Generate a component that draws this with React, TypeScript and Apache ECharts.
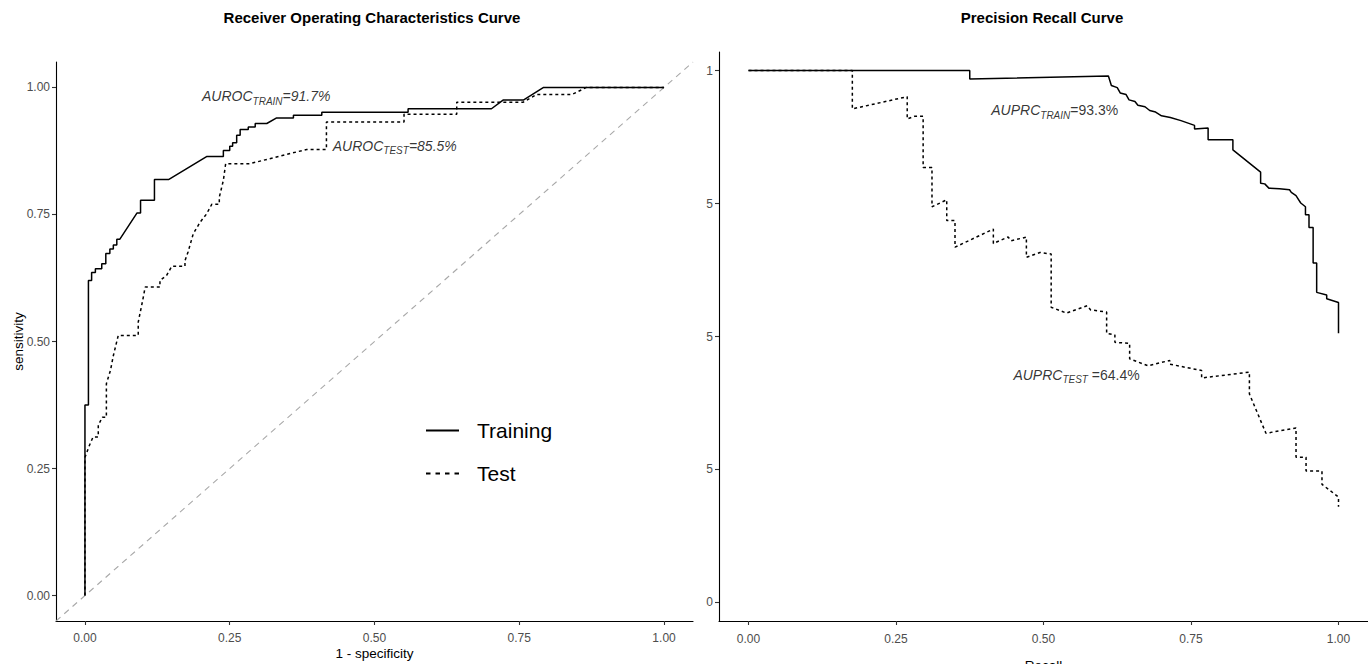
import React, { useEffect, useRef } from "react";
import * as echarts from "echarts";

const FONT = "'Liberation Sans', Arial, Helvetica, sans-serif";

const titles = ["Receiver Operating Characteristics Curve", "Precision Recall Curve"];
const seriesNames = ["Training", "Test"];
const tickValues = [0, 0.25, 0.5, 0.75, 1];
const rocTickLabels = ["0.00", "0.25", "0.50", "0.75", "1.00"];
const prXTickLabels = ["0.00", "0.25", "0.50", "0.75", "1.00"];
const prYTickLabels = ["0", "5", "5", "5", "1"];

// ROC curve, training: [1 - specificity, sensitivity]
const rocTrain: [number, number][] = [
  [0, 0], [0, 0.375], [0.006, 0.375], [0.006, 0.62], [0.0115, 0.62], [0.0115, 0.636],
  [0.018, 0.636], [0.018, 0.643], [0.029, 0.643], [0.029, 0.653], [0.036, 0.653], [0.036, 0.673],
  [0.043, 0.673], [0.043, 0.682], [0.049, 0.682], [0.049, 0.69], [0.055, 0.69], [0.055, 0.701],
  [0.06, 0.701], [0.09, 0.753], [0.096, 0.753], [0.096, 0.778], [0.12, 0.778], [0.12, 0.819],
  [0.145, 0.819], [0.21, 0.864], [0.239, 0.864], [0.239, 0.876], [0.25, 0.876], [0.25, 0.884],
  [0.255, 0.884], [0.255, 0.891], [0.262, 0.891], [0.262, 0.906], [0.268, 0.906], [0.268, 0.917],
  [0.282, 0.917], [0.282, 0.922], [0.294, 0.922], [0.294, 0.929], [0.314, 0.929], [0.331, 0.94],
  [0.36, 0.94], [0.36, 0.945], [0.409, 0.945], [0.409, 0.951], [0.558, 0.951], [0.558, 0.958],
  [0.702, 0.958], [0.722, 0.975], [0.757, 0.975], [0.792, 1], [1, 1],
];

// ROC curve, test
const rocTest: [number, number][] = [
  [0, 0], [0, 0.272], [0.0075, 0.295], [0.014, 0.312], [0.023, 0.312], [0.023, 0.335],
  [0.03, 0.351], [0.037, 0.351], [0.037, 0.417], [0.044, 0.443], [0.049, 0.472], [0.0575, 0.512],
  [0.092, 0.512], [0.092, 0.538], [0.0997, 0.581], [0.104, 0.607], [0.1295, 0.607], [0.1295, 0.62],
  [0.141, 0.63], [0.15, 0.648], [0.1727, 0.648], [0.1727, 0.659], [0.178, 0.676], [0.187, 0.712],
  [0.199, 0.735], [0.21, 0.751], [0.219, 0.77], [0.232, 0.77], [0.232, 0.784], [0.239, 0.817],
  [0.243, 0.85], [0.285, 0.85], [0.383, 0.878], [0.417, 0.878], [0.417, 0.932], [0.551, 0.932],
  [0.551, 0.947], [0.642, 0.947], [0.642, 0.971], [0.757, 0.971], [0.78, 0.986], [0.841, 0.986],
  [0.866, 1], [1, 1],
];

// Precision-recall curve, training: [recall, precision]
const prTrain: [number, number][] = [
  [0, 1], [0.375, 1], [0.375, 0.984], [0.61, 0.99], [0.615, 0.972], [0.625, 0.968], [0.63, 0.958],
  [0.64, 0.955], [0.645, 0.945], [0.655, 0.942], [0.66, 0.935], [0.672, 0.932], [0.68, 0.925],
  [0.69, 0.922], [0.7, 0.915], [0.715, 0.912], [0.733, 0.906], [0.756, 0.897], [0.756, 0.89],
  [0.779, 0.892], [0.779, 0.87], [0.821, 0.87], [0.821, 0.851], [0.868, 0.809], [0.868, 0.788],
  [0.875, 0.787], [0.882, 0.779], [0.9, 0.778], [0.917, 0.776], [0.92, 0.771], [0.928, 0.765],
  [0.932, 0.758], [0.936, 0.751], [0.944, 0.744], [0.944, 0.729], [0.95, 0.729], [0.95, 0.705],
  [0.957, 0.705], [0.957, 0.638], [0.963, 0.638], [0.963, 0.583], [0.98, 0.578], [0.98, 0.571],
  [1, 0.564], [1, 0.506],
];

// Precision-recall curve, test
const prTest: [number, number][] = [
  [0, 1], [0.176, 1], [0.176, 0.928], [0.269, 0.951], [0.269, 0.909], [0.281, 0.914], [0.296, 0.914],
  [0.296, 0.818], [0.311, 0.818], [0.311, 0.744], [0.336, 0.757], [0.336, 0.718], [0.35, 0.718],
  [0.35, 0.668], [0.415, 0.702], [0.415, 0.675], [0.44, 0.687], [0.445, 0.68], [0.471, 0.687],
  [0.471, 0.649], [0.494, 0.658], [0.513, 0.655], [0.513, 0.555], [0.539, 0.544], [0.574, 0.558],
  [0.58, 0.55], [0.607, 0.546], [0.607, 0.506], [0.621, 0.503], [0.621, 0.489], [0.646, 0.487],
  [0.646, 0.458], [0.677, 0.445], [0.714, 0.455], [0.714, 0.448], [0.768, 0.436], [0.768, 0.422],
  [0.849, 0.433], [0.849, 0.392], [0.877, 0.318], [0.928, 0.328], [0.928, 0.273], [0.945, 0.273],
  [0.945, 0.247], [0.972, 0.247], [0.972, 0.222], [1, 0.198], [1, 0.18],
];

const chanceLine: [number, number][] = [[-0.05, -0.05], [1.05, 1.05]];

// Annotations
const annotations: { grid: number; pos: [number, number]; metric: string; sub: string; value: string; italicValue: boolean }[] = [
  { grid: 0, pos: [0.313, 0.98], metric: "AUROC", sub: "TRAIN", value: "=91.7%", italicValue: true },
  { grid: 0, pos: [0.535, 0.882], metric: "AUROC", sub: "TEST", value: "=85.5%", italicValue: true },
  { grid: 1, pos: [0.519, 0.923], metric: "AUPRC", sub: "TRAIN", value: "=93.3%", italicValue: false },
  { grid: 1, pos: [0.556, 0.425], metric: "AUPRC", sub: "TEST", value: " =64.4%", italicValue: false },
];

export default function App() {
  const ref = useRef<HTMLDivElement>(null);

  useEffect(() => {
    if (!ref.current) return;
    const chart = echarts.init(ref.current, null, { renderer: "svg" });

    const axisLine = { show: true, onZero: false, lineStyle: { color: "#000", width: 1.1 } };
    const axisTick = (vals: number[]) => ({
      show: true, length: 4, customValues: vals, lineStyle: { color: "#333", width: 1.1 },
    });
    const labelStyle = { color: "#4d4d4d", fontSize: 12, fontFamily: FONT };

    const mkLabels = (labels: string[]) => (v: number) => {
      const i = tickValues.findIndex((t) => Math.abs(t - v) < 1e-6);
      return i >= 0 ? labels[i] : "";
    };

    const annotationSeries = annotations.map((a) => ({
      type: "scatter",
      xAxisIndex: a.grid,
      yAxisIndex: a.grid,
      symbol: "circle",
      symbolSize: 1,
      itemStyle: { color: "rgba(0,0,0,0)" },
      silent: true,
      z: 5,
      data: [a.pos],
      label: {
        show: true,
        position: "inside",
        formatter: `{m|${a.metric}}{s|${a.sub}}{v|${a.value}}`,
        rich: {
          m: { fontSize: 14, fontStyle: "italic", fontFamily: FONT, color: "#000", verticalAlign: "bottom", padding: [0, 0, 3, 0] },
          s: { fontSize: 10, fontStyle: "italic", fontFamily: FONT, color: "#000", verticalAlign: "bottom" },
          v: { fontSize: 14, fontStyle: a.italicValue ? "italic" : "normal", fontFamily: FONT, color: "#000", verticalAlign: "bottom", padding: [0, 0, 3, 0] },
        },
      },
    }));

    const option: any = {
      animation: false,
      backgroundColor: "#fff",
      title: [
        { text: titles[0], left: 372, top: 10, textAlign: "center", padding: 0,
          textStyle: { fontSize: 15, fontWeight: "bold", color: "#000", fontFamily: FONT } },
        { text: titles[1], left: 1042, top: 10, textAlign: "center", padding: 0,
          textStyle: { fontSize: 15, fontWeight: "bold", color: "#000", fontFamily: FONT } },
      ],
      legend: {
        data: [
          { name: seriesNames[0], lineStyle: { width: 2, type: "solid" } },
          { name: seriesNames[1], lineStyle: { width: 2, type: [4.5, 5] } },
        ],
        orient: "vertical",
        left: 425,
        top: 420,
        padding: 0,
        itemWidth: 33,
        itemHeight: 14,
        itemGap: 22,
        selectedMode: false,
        itemStyle: { opacity: 0 },
        textStyle: { fontSize: 21, color: "#000", fontFamily: FONT, padding: [0, 0, 0, 13] },
      },
      grid: [
        { left: 56, top: 62, width: 637, height: 559, outerBoundsMode: "none", containLabel: false },
        { left: 719, top: 52, width: 649, height: 569, outerBoundsMode: "none", containLabel: false },
      ],
      xAxis: [
        {
          type: "value", gridIndex: 0, min: -0.05, max: 1.05,
          name: "1 - specificity", nameLocation: "middle", nameGap: 32, nameMoveOverlap: false,
          nameTextStyle: { fontSize: 13.5, color: "#000", fontFamily: FONT, verticalAlign: "middle" },
          axisLine, axisTick: axisTick(tickValues), splitLine: { show: false },
          axisLabel: { ...labelStyle, margin: 11, customValues: tickValues, formatter: mkLabels(rocTickLabels) },
        },
        {
          type: "value", gridIndex: 1, min: -0.05, max: 1.05,
          name: "Recall", nameLocation: "middle", nameGap: 44, nameMoveOverlap: false,
          nameTextStyle: { fontSize: 13.5, color: "#000", fontFamily: FONT, verticalAlign: "middle" },
          axisLine, axisTick: axisTick(tickValues), splitLine: { show: false },
          axisLabel: { ...labelStyle, margin: 12, customValues: tickValues, formatter: mkLabels(prXTickLabels) },
        },
      ],
      yAxis: [
        {
          type: "value", gridIndex: 0, min: -0.05, max: 1.05,
          name: "sensitivity", nameLocation: "middle", nameGap: 38, nameRotate: 90, nameMoveOverlap: false,
          nameTextStyle: { fontSize: 13.5, color: "#000", fontFamily: FONT, verticalAlign: "middle" },
          axisLine, axisTick: axisTick(tickValues), splitLine: { show: false },
          axisLabel: { ...labelStyle, margin: 6, customValues: tickValues, formatter: mkLabels(rocTickLabels) },
        },
        {
          type: "value", gridIndex: 1, min: -0.035, max: 1.035,
          axisLine, axisTick: axisTick(tickValues), splitLine: { show: false },
          axisLabel: { ...labelStyle, margin: 6, customValues: tickValues, formatter: mkLabels(prYTickLabels) },
        },
      ],
      series: [
        {
          type: "line", xAxisIndex: 0, yAxisIndex: 0, data: chanceLine, symbol: "none", silent: true,
          lineStyle: { color: "#a8a8a8", width: 1.1, type: [6, 5] }, z: 1,
        },
        {
          name: seriesNames[0], type: "line", xAxisIndex: 0, yAxisIndex: 0, data: rocTrain, symbol: "none",
          color: "#000", lineStyle: { color: "#000", width: 1.5, type: "solid" }, z: 3,
        },
        {
          name: seriesNames[1], type: "line", xAxisIndex: 0, yAxisIndex: 0, data: rocTest, symbol: "none",
          color: "#000", lineStyle: { color: "#000", width: 1.5, type: [3, 3] }, z: 2,
        },
        {
          name: seriesNames[0], type: "line", xAxisIndex: 1, yAxisIndex: 1, data: prTrain, symbol: "none",
          color: "#000", lineStyle: { color: "#000", width: 1.5, type: "solid" }, z: 3,
        },
        {
          name: seriesNames[1], type: "line", xAxisIndex: 1, yAxisIndex: 1, data: prTest, symbol: "none",
          color: "#000", lineStyle: { color: "#000", width: 1.5, type: [3, 3] }, z: 2,
        },
        ...annotationSeries,
      ],
    };

    chart.setOption(option);
    return () => chart.dispose();
  }, []);

  return (
    <div
      ref={ref}
      style={{ position: "fixed", left: 0, top: 0, width: 1368, height: 664, background: "#fff" }}
    />
  );
}
